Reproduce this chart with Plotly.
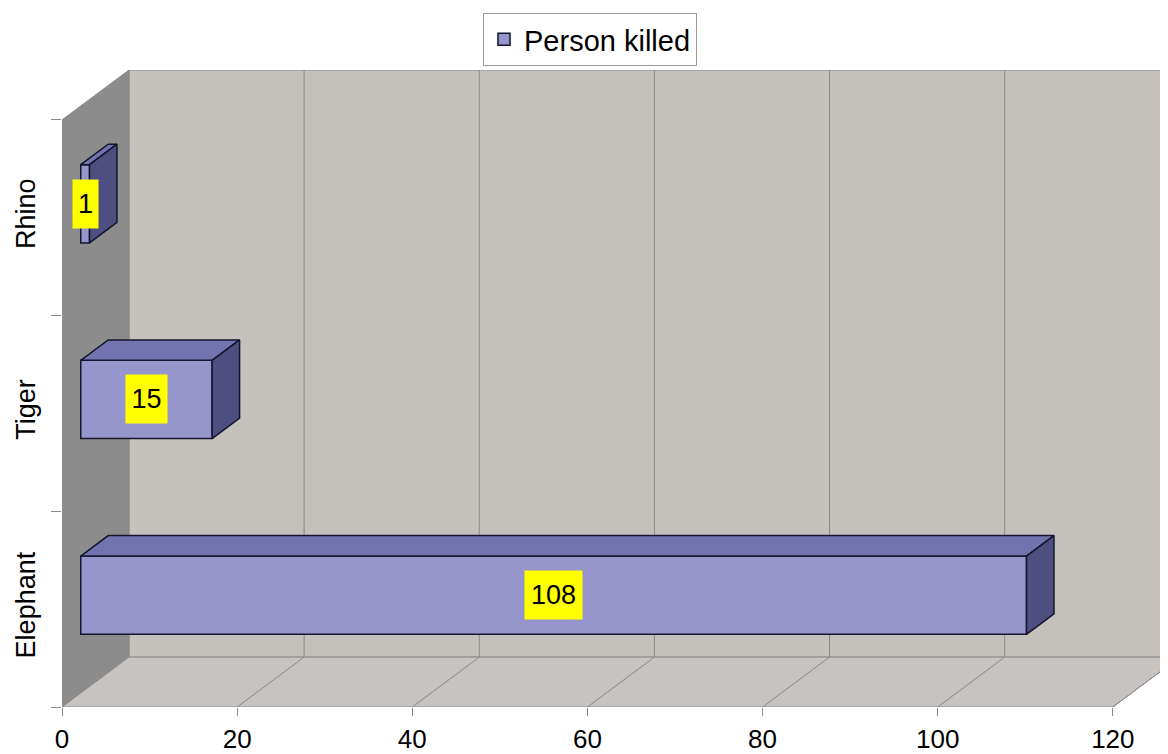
import plotly.graph_objects as go

animals = ["Elephant", "Tiger", "Rhino"]
killed = [108, 15, 1]
x_ticks = [0, 20, 40, 60, 80, 100, 120]
series_name = "Person killed"

# depth of the 3d box, in axis units
DX = 7.65
DY = 0.255
F_FRONT = 0.28   # where the bar front face sits in the depth
F_DEPTH = 0.41   # bar depth
BAR_H = 0.4
XMAX = 120

FONT = "Liberation Sans, Arial, sans-serif"
FACE = "#9696CC"
TOP = "#7373B0"
SIDE = "#4E4E80"
EDGE = "#15152e"

pos = list(range(len(animals)))
ylo, yhi = -0.5, len(animals) - 0.5

fig = go.Figure()

# walls and floor
shapes = []
shapes.append(dict(type="path", layer="below", fillcolor="#C4C0BC", line=dict(color="#8a8a8a", width=1),
                   path=f"M{DX},{ylo+DY} L{DX},{yhi+DY} L{XMAX+DX},{yhi+DY} L{XMAX+DX},{ylo+DY} Z"))
shapes.append(dict(type="path", layer="below", fillcolor="#8C8C8C", line=dict(color="#8a8a8a", width=1),
                   path=f"M0,{ylo} L0,{yhi} L{DX},{yhi+DY} L{DX},{ylo+DY} Z"))
shapes.append(dict(type="path", layer="below", fillcolor="#C6C3C0", line=dict(color="#8a8a8a", width=1),
                   path=f"M0,{ylo} L{XMAX},{ylo} L{XMAX+DX},{ylo+DY} L{DX},{ylo+DY} Z"))
for t in x_ticks[1:]:
    shapes.append(dict(type="line", layer="below", x0=t + DX, x1=t + DX, y0=ylo + DY, y1=yhi + DY,
                       line=dict(color="#8a8a8a", width=1)))
    shapes.append(dict(type="line", layer="below", x0=t, x1=t + DX, y0=ylo, y1=ylo + DY,
                       line=dict(color="#8a8a8a", width=1)))

# bars (front face)
yc = [p + F_FRONT * DY for p in pos]
x0 = F_FRONT * DX
fig.add_trace(go.Bar(
    y=yc, x=killed, base=x0, orientation="h", width=BAR_H, name=series_name,
    marker=dict(color=FACE, line=dict(color=EDGE, width=1.5)),
    hoverinfo="skip",
))

# top and side faces
gx, gy = F_DEPTH * DX, F_DEPTH * DY
for v, c in zip(killed, yc):
    x1 = x0 + v
    yt, yb = c + BAR_H / 2, c - BAR_H / 2
    fig.add_trace(go.Scatter(
        x=[x0, x1, x1 + gx, x0 + gx, x0], y=[yt, yt, yt + gy, yt + gy, yt],
        fill="toself", fillcolor=TOP, mode="lines", line=dict(color=EDGE, width=1.5),
        showlegend=False, hoverinfo="skip"))
    fig.add_trace(go.Scatter(
        x=[x1, x1 + gx, x1 + gx, x1, x1], y=[yb, yb + gy, yt + gy, yt, yb],
        fill="toself", fillcolor=SIDE, mode="lines", line=dict(color=EDGE, width=1.5),
        showlegend=False, hoverinfo="skip"))

# value labels
for v, c in zip(killed, yc):
    s = str(v)
    fig.add_annotation(x=x0 + v / 2, y=c, text=s, showarrow=False,
                       bgcolor="#FFFF00", borderpad=0, width=9 + 16 * len(s), height=48,
                       font=dict(family=FONT, size=27, color="#000000"))

# the page body adds an 8px margin, so the figure is 8px smaller
fig.update_layout(
    width=1160, height=746,
    margin=dict(l=54, r=0, t=62, b=47, autoexpand=False),
    paper_bgcolor="white", plot_bgcolor="white",
    font=dict(family=FONT, size=27, color="#000000"),
    shapes=shapes,
    showlegend=True,
    legend=dict(x=(582 - 54) / 1106, xanchor="center", y=1 + 57 / 637, yanchor="top",
                bgcolor="white", bordercolor="#9a9a9a", borderwidth=1,
                font=dict(family=FONT, size=29)),
    xaxis=dict(range=[0, 126.3], tickvals=x_ticks, ticks="outside", ticklen=8, tickcolor="#8a8a8a",
               showgrid=False, zeroline=False, showline=False, ticklabelstandoff=1,
               automargin=False, tickfont=dict(size=26)),
    yaxis=dict(range=[ylo, yhi + DY], tickvals=pos, ticktext=animals, tickangle=-90,
               ticks="", showgrid=False, zeroline=False, showline=False, ticklabelstandoff=21,
               automargin=False,
               minor=dict(tick0=-0.5, dtick=1, ticks="outside", ticklen=10, tickcolor="#8a8a8a"),
               tickfont=dict(size=27)),
)

fig.write_html("out.html")
